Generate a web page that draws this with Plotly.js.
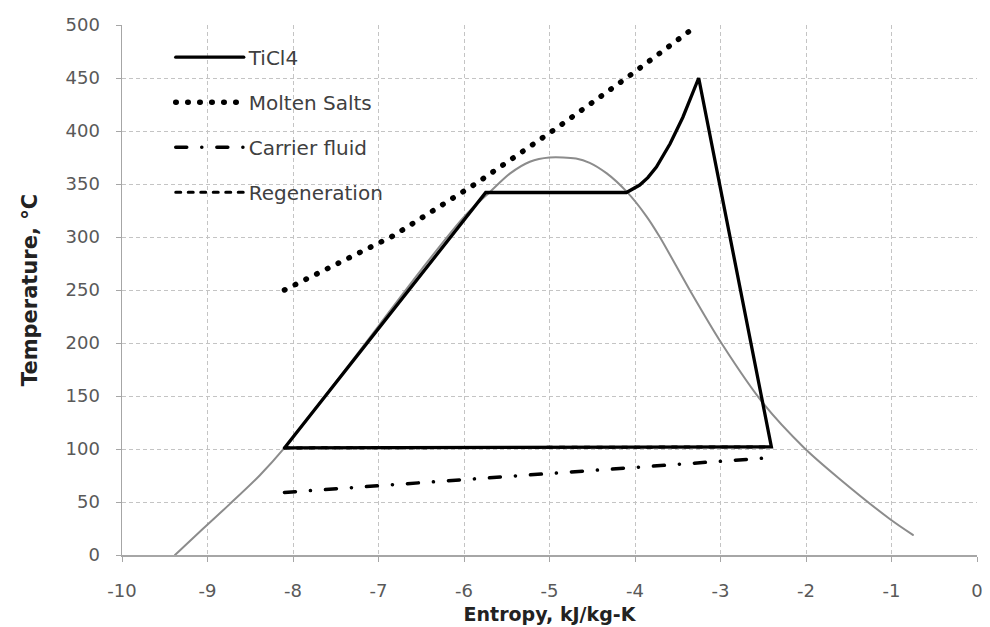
<!DOCTYPE html>
<html><head><meta charset="utf-8">
<script src="https://cdn.plot.ly/plotly-3.0.1.min.js"></script>
<style>
html,body{margin:0;padding:0;background:#fff}
#chart{width:990px;height:627px}
.js-line{stroke-linecap:round}
</style></head><body><div id="chart"></div>
<script>
// Saturation dome (grey)
var domeX = [-9.38, -9.05, -8.74, -8.39, -8.10, -7.5, -7.0, -6.5, -6.0, -5.69, -5.46, -5.23, -5.0, -4.69, -4.53, -4.33, -4.10, -3.87, -3.71, -3.36, -2.99, -2.50, -2.02, -1.61, -1.02, -0.75];
var domeY = [0, 25, 48, 75, 101, 163, 216, 269, 319, 343, 360, 371, 375, 374, 370, 360, 343, 320, 300, 250, 200, 143, 101, 72, 34, 19];
// TiCl4 cycle
var tiX = [-8.10, -5.746, -4.10, -3.945, -3.85, -3.75, -3.59, -3.44, -3.255, -2.405, -8.10];
var tiY = [101, 342, 342, 349, 356, 366, 388, 413, 450, 102, 101];
// Molten salts
var msX = [-8.10, -7.49, -6.83, -5.85, -4.93, -4.10, -3.30];
var msY = [250, 274, 301, 351, 402, 450, 498];
// Carrier fluid
var cfX = [-8.10, -2.38];
var cfY = [59, 92];
// Regeneration
var rgX = [-8.10, -2.405];
var rgY = [101, 102];

var names = ['TiCl4', 'Molten Salts', 'Carrier fluid', 'Regeneration'];
var xTicks = [-10, -9, -8, -7, -6, -5, -4, -3, -2, -1, 0];
var yTicks = [0, 50, 100, 150, 200, 250, 300, 350, 400, 450, 500];

var traces = [
  {x: domeX, y: domeY, mode: 'lines', line: {color: '#8c8c8c', width: 2, shape: 'spline', smoothing: 0.8}, showlegend: false, hoverinfo: 'skip'},
  {x: rgX, y: rgY, mode: 'lines', name: names[3], legendgroup: 'g4', legendrank: 4, line: {color: '#000', width: 3, dash: '5px,7.5px'}},
  {x: cfX, y: cfY, mode: 'lines', name: names[2], legendgroup: 'g3', legendrank: 3, line: {color: '#000', width: 3.5, dash: '11px,15px,0.1px,15px'}},
  {x: msX, y: msY, mode: 'lines', name: names[1], legendgroup: 'g2', legendrank: 2, line: {color: '#000', width: 5.5, dash: '0.5px,11.5px'}},
  {x: tiX, y: tiY, mode: 'lines', name: names[0], legendgroup: 'g1', legendrank: 1, line: {color: '#000', width: 3.3}}
];

var axisCommon = {
  showgrid: true, gridcolor: '#c4c4c4', griddash: '4px,3px', gridwidth: 1,
  showline: true, linecolor: '#a6a6a6', linewidth: 1.5,
  ticks: 'outside', ticklen: 5, tickcolor: '#a6a6a6', tickwidth: 1,
  zeroline: false,
  tickfont: {family: 'DejaVu Sans', size: 18, color: '#595959'}
};

var layout = {
  width: 990, height: 627,
  margin: {l: 122, r: 13, t: 25, b: 72},
  paper_bgcolor: '#fff', plot_bgcolor: '#fff',
  showlegend: true,
  legend: {
    x: 0.057, y: 0.976, xanchor: 'left', yanchor: 'top',
    bgcolor: 'rgba(0,0,0,0)', borderwidth: 0,
    traceorder: 'grouped', tracegroupgap: 16, itemwidth: 68,
    font: {family: 'DejaVu Sans', size: 20, color: '#404040'}
  },
  xaxis: Object.assign({}, axisCommon, {
    range: [-10, 0], tickvals: xTicks, ticktext: xTicks.map(String),
    ticklabelstandoff: 14,
    title: {text: 'Entropy, kJ/kg-K', font: {family: 'DejaVu Sans', size: 19, color: '#222', weight: 'bold'}, standoff: 7}
  }),
  yaxis: Object.assign({}, axisCommon, {
    range: [0, 500], tickvals: yTicks, ticktext: yTicks.map(String),
    ticklabelstandoff: 12,
    title: {text: 'Temperature, °C', font: {family: 'DejaVu Sans', size: 21, color: '#222', weight: 'bold'}, standoff: 22}
  })
};

Plotly.newPlot('chart', traces, layout, {staticPlot: true, displayModeBar: false});
</script></body></html>
